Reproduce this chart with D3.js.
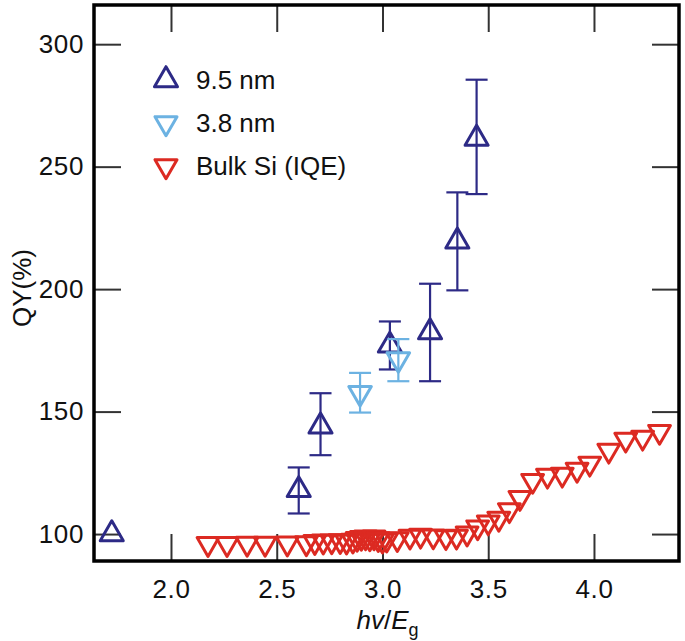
<!DOCTYPE html>
<html>
<head>
<meta charset="utf-8">
<script src="https://cdn.jsdelivr.net/npm/d3@7"></script>
<style>
  body { margin: 0; background: #fff; }
  svg { display: block; font-family: "Liberation Sans", Arial, Helvetica, sans-serif; }
</style>
</head>
<body>
<div id="chart"></div>
<script>
// 9.5 nm nanocrystals (hv/Eg, QY %, error low, error high)
const nc95X   = [1.72, 2.604, 2.707, 3.035, 3.225, 3.354, 3.445];
const nc95Y   = [100, 118, 144, 177, 182.5, 219.5, 261.5];
const nc95Lo  = [null, 108.4, 132.2, 167.2, 162.4, 199.5, 238.8];
const nc95Hi  = [null, 127.2, 157.5, 186.8, 202.2, 239.5, 285.5];

// 3.8 nm nanocrystals
const nc38X   = [2.894, 3.075];
const nc38Y   = [157.6, 171.4];
const nc38Lo  = [149.6, 162.4];
const nc38Hi  = [165.8, 179.6];

// bulk Si internal quantum efficiency
const bulkX = [2.175, 2.265, 2.36, 2.445, 2.55, 2.64, 2.68, 2.72, 2.76, 2.80, 2.83,
               2.86, 2.88, 2.90, 2.92, 2.94, 2.96, 2.98, 3.00, 3.02, 3.07, 3.13, 3.18,
               3.24, 3.30, 3.35, 3.40, 3.45, 3.50, 3.55, 3.60, 3.65, 3.71, 3.78, 3.85,
               3.92, 3.98, 4.07, 4.15, 4.23, 4.31];
const bulkY = [96.0, 96.0, 96.1, 96.1, 96.2, 96.3, 96.8, 97.0, 97.1, 97.2, 97.0,
               97.4, 98.1, 98.5, 98.7, 98.3, 98.7, 98.0, 97.4, 97.8, 98.0, 99.0, 99.4,
               99.1, 98.8, 99.0, 100.3, 102.8, 104.8, 106.3, 109.8, 114.8, 121.8, 123.9, 124.3,
               126.3, 128.8, 134.1, 138.6, 139.4, 141.8];

const xTicks = [2.0, 2.5, 3.0, 3.5, 4.0];
const yTicks = [100, 150, 200, 250, 300];

const legendLabels = ["9.5 nm", "3.8 nm", "Bulk Si (IQE)"];
const colors = {nc95: "#2d2a86", nc38: "#6cb2e2", bulk: "#dc2a22"};

const W = 685, H = 641;
const margin = {top: 5, right: 6, bottom: 80, left: 94};
const width = W - margin.left - margin.right;
const height = H - margin.top - margin.bottom;

const svg = d3.select("#chart").append("svg")
    .attr("width", W)
    .attr("height", H);

const g = svg.append("g")
    .attr("transform", `translate(${margin.left},${margin.top})`);

const x = d3.scaleLinear().domain([1.636, 4.402]).range([0, width]);
const y = d3.scaleLinear().domain([89, 316]).range([height, 0]);

// axes, ticks pointing inwards on all four sides
const tickLen = 27;
const fmt = d3.format(".1f");

const xAxis = g.append("g")
    .attr("transform", `translate(0,${height})`)
    .call(d3.axisBottom(x).tickValues(xTicks).tickSize(-tickLen).tickPadding(19).tickFormat(fmt));
const xTop = g.append("g")
    .call(d3.axisTop(x).tickValues(xTicks).tickSize(-tickLen).tickFormat(""));
const yAxis = g.append("g")
    .call(d3.axisLeft(y).tickValues(yTicks).tickSize(-tickLen).tickPadding(10));
const yRight = g.append("g")
    .attr("transform", `translate(${width},0)`)
    .call(d3.axisRight(y).tickValues(yTicks).tickSize(-tickLen).tickFormat(""));

[xAxis, xTop, yAxis, yRight].forEach(a => {
    a.select(".domain").remove();
    a.selectAll(".tick line").attr("stroke", "#333").attr("stroke-width", 2);
    a.selectAll(".tick text")
        .attr("fill", "#111")
        .style("font-size", "26px")
        .style("letter-spacing", "0.6px");
});

// frame
g.append("rect")
    .attr("width", width)
    .attr("height", height)
    .attr("fill", "none")
    .attr("stroke", "#000")
    .attr("stroke-width", 3.5);

// axis titles
g.append("text")
    .attr("transform", `translate(${22 - margin.left},${288 - margin.top}) rotate(-90)`)
    .attr("text-anchor", "middle")
    .attr("dy", "0.35em")
    .style("font-size", "26px")
    .attr("fill", "#111")
    .text("QY(%)");

const xt = g.append("text")
    .attr("x", x(3.0) + 5)
    .attr("y", 629 - margin.top)
    .attr("text-anchor", "middle")
    .style("font-size", "26px")
    .attr("fill", "#111");
xt.append("tspan").style("font-style", "italic").text("hv");
xt.append("tspan").text("/");
xt.append("tspan").style("font-style", "italic").text("E");
xt.append("tspan").attr("dy", 7).style("font-size", "18px").text("g");

// markers
const tri = d3.symbol().type(d3.symbolTriangle);

function drawErrors(xs, lo, hi, color) {
    const idx = d3.range(xs.length).filter(i => lo[i] != null);
    const eb = g.append("g").attr("stroke", color).attr("stroke-width", 2.2);
    eb.selectAll("line.v").data(idx).enter().append("line")
        .attr("x1", i => x(xs[i])).attr("x2", i => x(xs[i]))
        .attr("y1", i => y(lo[i])).attr("y2", i => y(hi[i]));
    eb.selectAll("line.lo").data(idx).enter().append("line")
        .attr("x1", i => x(xs[i]) - 11).attr("x2", i => x(xs[i]) + 11)
        .attr("y1", i => y(lo[i])).attr("y2", i => y(lo[i]));
    eb.selectAll("line.hi").data(idx).enter().append("line")
        .attr("x1", i => x(xs[i]) - 11).attr("x2", i => x(xs[i]) + 11)
        .attr("y1", i => y(hi[i])).attr("y2", i => y(hi[i]));
}

function drawTriangles(xs, ys, color, size, down) {
    g.append("g").selectAll("path")
        .data(d3.range(xs.length))
        .enter().append("path")
        .attr("d", tri.size(size)())
        .attr("transform", i => `translate(${x(xs[i])},${y(ys[i])})` + (down ? " rotate(180)" : ""))
        .attr("fill", "none")
        .attr("stroke", color)
        .attr("stroke-width", 3)
        .attr("stroke-linejoin", "round");
}

drawTriangles(bulkX, bulkY, colors.bulk, 205, true);
drawErrors(nc95X, nc95Lo, nc95Hi, colors.nc95);
drawTriangles(nc95X, nc95Y, colors.nc95, 230, false);
drawErrors(nc38X, nc38Lo, nc38Hi, colors.nc38);
drawTriangles(nc38X, nc38Y, colors.nc38, 220, true);

// legend
const legendColors = [colors.nc95, colors.nc38, colors.bulk];
const legend = svg.append("g");
legendLabels.forEach((lab, i) => {
    const ly = 80 + i * 43;
    legend.append("path")
        .attr("d", tri.size(i === 0 ? 230 : 210)())
        .attr("transform", `translate(166,${ly})` + (i > 0 ? " rotate(180)" : ""))
        .attr("fill", "none")
        .attr("stroke", legendColors[i])
        .attr("stroke-width", 3)
        .attr("stroke-linejoin", "round");
    legend.append("text")
        .attr("x", 196)
        .attr("y", ly)
        .attr("dy", "0.36em")
        .style("font-size", "26px")
        .attr("fill", "#111")
        .text(lab);
});
</script>
</body>
</html>
